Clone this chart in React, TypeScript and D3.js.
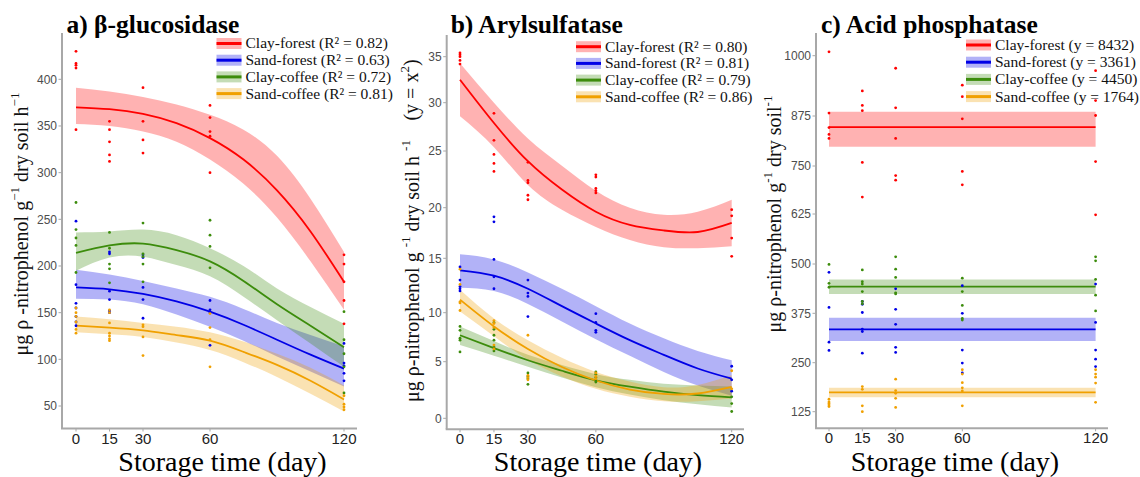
import React from 'react';
import * as d3 from 'd3';

// ---------- shared ----------
const obsDays = [0, 15, 30, 60, 120];
const fitDays = [0, 15, 30, 45, 60, 75, 90, 105, 120];
const xTickDays = [0, 15, 30, 60, 120];
const seriesNames = ['Clay-forest', 'Sand-forest', 'Clay-coffee', 'Sand-coffee'];
const seriesColors = ['#ff0000', '#0000e6', '#3c8c0c', '#f0a000'];

// ---------- a) beta-glucosidase ----------
const glucTicks = [50, 100, 150, 200, 250, 300, 350, 400];
const glucLegend = ['(R² = 0.82)', '(R² = 0.63)', '(R² = 0.72)', '(R² = 0.81)'];
const glucClayForestFit = [370, 368, 363, 353, 337, 314, 281, 237, 183];
const glucClayForestHi = [391, 387, 381, 373, 362, 346, 318, 272, 215];
const glucClayForestLo = [352, 350, 344, 333, 314, 288, 252, 205, 153];
const glucSandForestFit = [177, 175, 170, 162, 151, 137, 121, 105, 90];
const glucSandForestHi = [196, 191, 184, 176, 167, 154, 139, 126, 114];
const glucSandForestLo = [165, 164, 159, 148, 135, 120, 103, 87, 71];
const glucClayCoffeeFit = [214, 222, 224, 217, 205, 184, 159, 136, 113];
const glucClayCoffeeHi = [236, 237, 239, 233, 219, 200, 176, 156, 138];
const glucClayCoffeeLo = [195, 209, 210, 201, 189, 167, 142, 117, 92];
const glucSandCoffeeFit = [136, 134, 131, 126, 120, 108, 94, 77, 57];
const glucSandCoffeeHi = [146, 143, 139, 135, 129, 119, 106, 91, 72];
const glucSandCoffeeLo = [129, 127, 124, 118, 110, 97, 81, 63, 44];
const glucClayForestObs = [[430, 417, 415, 412, 346], [355, 346, 333, 319, 312], [391, 355, 335, 321], [372, 359, 344, 339, 300], [212, 202, 183, 163, 138]];
const glucSandForestObs = [[248, 180, 160, 155, 146, 140, 136], [215, 213, 173, 164, 152, 150], [212, 209, 177, 164, 144], [163, 153, 150, 115], [117, 96, 93, 85, 77]];
const glucClayCoffeeObs = [[268, 239, 230, 222, 193], [236, 219, 202, 197, 182], [246, 213, 210, 202, 183], [249, 233, 221, 198], [151, 121, 106, 92, 64]];
const glucSandCoffeeObs = [[155, 150, 146, 140, 132, 128], [153, 150, 139, 128, 125, 122, 120], [137, 135, 124, 104], [149, 134, 121, 92], [61, 52, 49, 46]];

// ---------- b) arylsulfatase ----------
const arylTicks = [0, 5, 10, 15, 20, 25, 30, 35];
const arylLegend = ['(R² = 0.80)', '(R² = 0.81)', '(R² = 0.79)', '(R² = 0.86)'];
const arylClayForestFit = [32.5, 27.9, 24.1, 21.6, 19.6, 18.3, 17.75, 17.6, 18.5];
const arylClayForestHi = [34.3, 30.0, 26.3, 23.7, 21.5, 20.0, 19.3, 19.6, 20.7];
const arylClayForestLo = [28.6, 25.4, 22.0, 19.8, 18.1, 16.8, 16.1, 16.0, 16.2];
const arylSandForestFit = [13.9, 13.4, 12.2, 10.6, 8.9, 7.2, 5.7, 4.4, 3.5];
const arylSandForestHi = [15.4, 14.9, 13.7, 12.2, 10.6, 8.9, 7.4, 6.1, 5.15];
const arylSandForestLo = [12.3, 12.0, 10.8, 9.1, 7.3, 5.6, 4.1, 2.9, 2.0];
const arylClayCoffeeFit = [7.7, 6.38, 5.15, 4.2, 3.35, 2.79, 2.35, 2.04, 1.85];
const arylClayCoffeeHi = [8.6, 7.1, 5.7, 4.7, 3.9, 3.4, 3.05, 2.9, 2.8];
const arylClayCoffeeLo = [6.7, 5.6, 4.55, 3.6, 2.75, 2.1, 1.6, 1.25, 0.96];
const arylSandCoffeeFit = [11.2, 8.6, 6.3, 4.53, 3.34, 2.54, 2.15, 2.19, 2.77];
const arylSandCoffeeHi = [12.1, 9.4, 7.2, 5.4, 4.1, 3.25, 2.75, 2.95, 3.8];
const arylSandCoffeeLo = [10.1, 7.6, 5.2, 3.7, 2.6, 1.9, 1.5, 1.5, 1.75];
const arylClayForestObs = [[35.4, 35.2, 35.0, 34.6, 34.2], [28.9, 26.1, 24.7, 23.9, 23.2], [24.0, 22.4, 22.2, 21.1, 20.7], [22.9, 22.7, 21.7, 21.5, 21.3], [19.8, 19.2, 17.0, 15.2]];
const arylSandForestObs = [[14.2, 13.0, 12.4, 12.2, 12.0], [19.1, 18.6, 14.9, 13.3, 12.2], [13.0, 11.8, 11.5, 9.6], [9.9, 9.0, 8.2, 8.0], [4.6, 3.4, 2.4]];
const arylClayCoffeeObs = [[8.6, 8.2, 7.4, 7.2, 6.0], [9.0, 8.3, 7.7, 7.2, 6.5, 6.1], [4.0, 3.7, 3.5, 3.0], [4.1, 3.9, 3.6, 3.3, 3.2], [1.9, 1.3, 0.6]];
const arylSandCoffeeObs = [[14.0, 12.6, 11.0, 10.9, 10.2], [9.2, 8.9, 8.5, 6.7, 6.3], [7.7, 3.8, 3.6, 3.4], [4.0, 3.7, 3.5], [4.2, 2.6]];

// ---------- c) acid phosphatase ----------
const phosTicks = [125, 250, 375, 500, 625, 750, 875, 1000];
const phosLegend = ['(y = 8432)', '(y = 3361)', '(y = 4450)', '(y = 1764)'];
const phosFitDays = [0, 120];
const phosClayForestFit = [847, 847];
const phosClayForestHi = [884, 884];
const phosClayForestLo = [798, 798];
const phosSandForestFit = [334.5, 334.5];
const phosSandForestHi = [364, 364];
const phosSandForestLo = [305, 305];
const phosClayCoffeeFit = [442.5, 442.5];
const phosClayCoffeeHi = [461, 461];
const phosClayCoffeeLo = [424, 424];
const phosSandCoffeeFit = [174.5, 174.5];
const phosSandCoffeeHi = [186, 186];
const phosSandCoffeeLo = [162, 162];
const phosClayForestObs = [[1008, 881, 846, 829, 819], [927, 897, 886, 759, 669], [974, 892, 819, 725, 713], [939, 915, 868, 736, 701], [969, 907, 876, 761, 623]];
const phosSandForestObs = [[479, 390, 302, 281], [405, 398, 377, 335, 329, 274], [437, 385, 347, 289, 276], [445, 375, 282, 249, 224], [449, 352, 282, 259, 240]];
const phosClayCoffeeObs = [[499, 451, 441], [485, 455, 449, 430, 405, 399], [518, 487, 466, 427, 424], [464, 430, 395, 362, 358], [518, 508, 461, 421, 381]];
const phosSandCoffeeObs = [[157, 150, 146, 142, 138], [189, 182, 140, 125], [208, 179, 172, 159, 136], [232, 221, 199, 186, 178, 140], [232, 221, 213, 198, 149]];

const SERIF = '"Liberation Serif", "Times New Roman", serif';
const SANS = '"Liberation Sans", Arial, sans-serif';

type Series = { fit: number[]; hi: number[]; lo: number[]; obs: number[][] };

type PanelProps = {
  title: string;
  axisX: number; axisRight: number; axisTop: number; axisBottom: number;
  x0: number; x120: number;
  yDomain: number[]; yRange: number[];
  yTicks: number[];
  fd: number[];
  series: Series[];
  legend: string[];
  legendX: number; legendY: number; legendDy: number;
  titleX: number;
  xTitleX: number;
  yTitle: React.ReactNode;
};

function Panel(p: PanelProps) {
  const x = d3.scaleLinear().domain([0, 120]).range([p.x0, p.x120]);
  const y = d3.scaleLinear().domain(p.yDomain).range(p.yRange);
  const line = d3.line<[number, number]>().x(d => x(d[0])).y(d => y(d[1])).curve(d3.curveNatural);
  const area = d3.area<[number, number, number]>().x(d => x(d[0])).y0(d => y(d[1])).y1(d => y(d[2])).curve(d3.curveNatural);
  const axisColor = '#a8a8a8';
  return (
    <g>
      {p.series.map((s, i) => (
        <path key={'b' + i} d={area(p.fd.map((d, k) => [d, s.lo[k], s.hi[k]] as [number, number, number])) || ''}
          fill={seriesColors[i]} fillOpacity={0.3} stroke="none" />
      ))}
      {p.series.map((s, i) => (
        <path key={'l' + i} d={line(p.fd.map((d, k) => [d, s.fit[k]] as [number, number])) || ''}
          fill="none" stroke={seriesColors[i]} strokeWidth={1.8} />
      ))}
      {p.series.map((s, i) => (
        <g key={'p' + i} fill={seriesColors[i]}>
          {s.obs.map((vals, di) => vals.map((v, vi) => (
            <circle key={di + '-' + vi} cx={x(obsDays[di])} cy={y(v)} r={1.4} />
          )))}
        </g>
      ))}
      <line x1={p.axisX} x2={p.axisX} y1={p.axisTop} y2={p.axisBottom} stroke={axisColor} strokeWidth={2} />
      <line x1={p.axisX - 1} x2={p.axisRight} y1={p.axisBottom} y2={p.axisBottom} stroke={axisColor} strokeWidth={2} />
      {p.yTicks.map(t => (
        <g key={'yt' + t}>
          <line x1={p.axisX - 3.5} x2={p.axisX} y1={y(t)} y2={y(t)} stroke={axisColor} strokeWidth={1} />
          <text x={p.axisX - 5} y={y(t)} dy="0.35em" textAnchor="end" fontFamily={SANS} fontSize={12} fill="#4d4d4d">{t}</text>
        </g>
      ))}
      {xTickDays.map(t => (
        <g key={'xt' + t}>
          <line x1={x(t)} x2={x(t)} y1={p.axisBottom} y2={p.axisBottom + 3} stroke={axisColor} strokeWidth={1} />
          <text x={x(t)} y={p.axisBottom + 15} textAnchor="middle" fontFamily={SANS} fontSize={15} fill="#222">{t}</text>
        </g>
      ))}
      <text x={p.titleX} y={33} fontFamily={SERIF} fontWeight="bold" fontSize={25.5} fill="#000">{p.title}</text>
      <text x={p.xTitleX} y={471} textAnchor="middle" fontFamily={SERIF} fontSize={28} fill="#000">Storage time (day)</text>
      {p.yTitle}
      {seriesNames.map((n, i) => {
        const cy = p.legendY + i * p.legendDy;
        return (
          <g key={'lg' + i}>
            <rect x={p.legendX} y={cy - 5.5} width={25} height={11} fill={seriesColors[i]} fillOpacity={0.3} />
            <line x1={p.legendX} x2={p.legendX + 25} y1={cy} y2={cy} stroke={seriesColors[i]} strokeWidth={3} />
            <text x={p.legendX + 29} y={cy} dy="0.32em" fontFamily={SERIF} fontSize={15.5} fill="#111">{n + ' ' + p.legend[i]}</text>
          </g>
        );
      })}
    </g>
  );
}

function YTitle({ cx, cy, parts }: { cx: number; cy: number; parts: Array<[string, boolean]> }) {
  return (
    <text transform={`translate(${cx},${cy}) rotate(-90)`} textAnchor="middle" dominantBaseline="middle"
      fontFamily={SERIF} fontSize={20} fill="#111">
      {parts.map(([s, sup], i) => sup
        ? <tspan key={i} dy={-7} fontSize={13}>{s}</tspan>
        : <tspan key={i} dy={i > 0 && parts[i - 1][1] ? 7 : 0}>{s}</tspan>)}
    </text>
  );
}

export default function App() {
  const glucSeries: Series[] = [
    { fit: glucClayForestFit, hi: glucClayForestHi, lo: glucClayForestLo, obs: glucClayForestObs },
    { fit: glucSandForestFit, hi: glucSandForestHi, lo: glucSandForestLo, obs: glucSandForestObs },
    { fit: glucClayCoffeeFit, hi: glucClayCoffeeHi, lo: glucClayCoffeeLo, obs: glucClayCoffeeObs },
    { fit: glucSandCoffeeFit, hi: glucSandCoffeeHi, lo: glucSandCoffeeLo, obs: glucSandCoffeeObs },
  ];
  const arylSeries: Series[] = [
    { fit: arylClayForestFit, hi: arylClayForestHi, lo: arylClayForestLo, obs: arylClayForestObs },
    { fit: arylSandForestFit, hi: arylSandForestHi, lo: arylSandForestLo, obs: arylSandForestObs },
    { fit: arylClayCoffeeFit, hi: arylClayCoffeeHi, lo: arylClayCoffeeLo, obs: arylClayCoffeeObs },
    { fit: arylSandCoffeeFit, hi: arylSandCoffeeHi, lo: arylSandCoffeeLo, obs: arylSandCoffeeObs },
  ];
  const phosSeries: Series[] = [
    { fit: phosClayForestFit, hi: phosClayForestHi, lo: phosClayForestLo, obs: phosClayForestObs },
    { fit: phosSandForestFit, hi: phosSandForestHi, lo: phosSandForestLo, obs: phosSandForestObs },
    { fit: phosClayCoffeeFit, hi: phosClayCoffeeHi, lo: phosClayCoffeeLo, obs: phosClayCoffeeObs },
    { fit: phosSandCoffeeFit, hi: phosSandCoffeeHi, lo: phosSandCoffeeLo, obs: phosSandCoffeeObs },
  ];
  return (
    <svg width={1140} height={477} style={{ position: 'absolute', left: 0, top: 0, background: '#fff' }}>
      <rect width={1140} height={477} fill="#fff" />
      <Panel title="a) β-glucosidase" axisX={62} axisRight={357} axisTop={33} axisBottom={428.5}
        x0={76} x120={344} yDomain={[50, 400]} yRange={[406, 79.3]} yTicks={glucTicks}
        fd={fitDays} series={glucSeries} legend={glucLegend}
        legendX={216.5} legendY={43.5} legendDy={16.7} titleX={66.5} xTitleX={222.5}
        yTitle={<YTitle cx={23} cy={224} parts={[['μg ρ -nitrophenol g', false], ['−1', true], [' dry soil h', false], ['−1', true]]} />} />
      <Panel title="b) Arylsulfatase" axisX={446.7} axisRight={744} axisTop={35} axisBottom={429.3}
        x0={460} x120={731.7} yDomain={arylTicks} yRange={[418.3, 361.7, 312.7, 258.3, 207.7, 151, 102.7, 56.7]} yTicks={arylTicks}
        fd={fitDays} series={arylSeries} legend={arylLegend}
        legendX={576} legendY={46.7} legendDy={16.7} titleX={450.7} xTitleX={598}
        yTitle={<g>
          <YTitle cx={414} cy={271} parts={[['μg ρ-nitrophenol g ', false], ['-1', true], [' dry soil h ', false], ['-1', true]]} />
          <YTitle cx={413} cy={90} parts={[['(y = x', false], ['2', true], [')', false]]} />
        </g>} />
      <Panel title="c) Acid phosphatase" axisX={816} axisRight={1108} axisTop={33} axisBottom={428.3}
        x0={829} x120={1095.6} yDomain={phosTicks} yRange={[411.7, 362.7, 313.3, 264, 214, 166, 116, 55.7]} yTicks={phosTicks}
        fd={phosFitDays} series={phosSeries} legend={phosLegend}
        legendX={966} legendY={45} legendDy={17.2} titleX={821} xTitleX={955}
        yTitle={<YTitle cx={776} cy={214} parts={[['μg ρ-nitrophenol g', false], ['-1', true], [' dry soil', false], ['-1', true]]} />} />
    </svg>
  );
}
